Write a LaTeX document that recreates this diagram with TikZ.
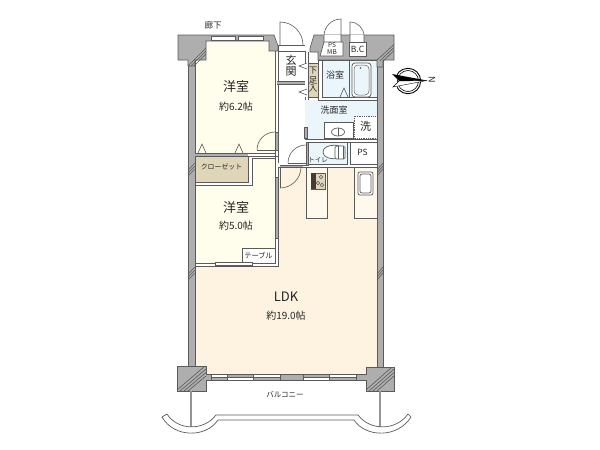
\documentclass[tikz,border=0pt]{standalone}
\usepackage{fontspec}
\setmainfont{Noto Sans CJK JP}
\definecolor{wallg}{HTML}{AEAEAE}
\definecolor{edgeg}{HTML}{5A5A5A}
\definecolor{roomy}{HTML}{FFFDEC}
\definecolor{roomo}{HTML}{FEF3E0}
\definecolor{cnt}{HTML}{FFF8EC}
\definecolor{wetb}{HTML}{EAF5FC}
\definecolor{tanc}{HTML}{DFD5B9}
\definecolor{stovd}{HTML}{4A3A30}
\tikzset{
  wall/.style={fill=wallg,draw=edgeg,line width=.6pt},
  ln/.style={draw=edgeg,line width=.7pt},
  partition/.style={draw=edgeg,fill=white,line width=.7pt},
  door/.style={draw=edgeg,line width=.6pt},
  hatchline/.style={draw=edgeg,line width=.6pt},
  lbl/.style={inner sep=0pt,text=black!85},
  bigt/.style={lbl,font=\fontsize{13}{13}\selectfont},
  midt/.style={lbl,font=\fontsize{10}{10}\selectfont},
  smallt/.style={lbl,font=\fontsize{8.5}{9}\selectfont},
  narrowt/.style={lbl,font=\fontsize{7.2}{8}\selectfont},
  tinyt/.style={lbl,font=\fontsize{6.5}{7}\selectfont},
}
\begin{document}
\begin{tikzpicture}[x=1pt,y=-1pt]
\useasboundingbox (0,0) rectangle (600,450);
% room fills
\fill[roomy] (195,41) rectangle (275,154);
\fill[roomy] (195,185) -- (252,185) -- (252,158) -- (275,158) -- (275,263) -- (195,263) -- cycle;
\fill[roomo] (195,266) -- (278,266) -- (278,167) -- (377,167) -- (377,367) -- (366,367) -- (366,374) -- (206,374) -- (206,366) -- (195,366) -- cycle;
\fill[wetb] (322,60) rectangle (377,97);
\fill[wetb] (305,100) rectangle (377,139);
\fill[wetb] (308,142) rectangle (350,164);
% outer walls
\fill[wallg] (188,60) rectangle (195,366);
\draw[ln] (188,60) -- (188,366) (195,60) -- (195,366);
\fill[wallg] (377,60) rectangle (383,367);
\draw[ln] (377,60) -- (377,367) (383,60) -- (383,367);
% top left block
\path[wall] (178,35) -- (274,35) -- (278,46) -- (278,51) -- (269,51) -- (269,41) -- (206,41) -- (206,60) -- (195,60) -- (195,66) -- (188,66) -- (188,60) -- (178,60) -- cycle;
\foreach \a/\b in {211/235,238/263}{\fill[white,draw=edgeg,line width=.7pt] (\a,36) rectangle (\b,40);}
\draw[line width=1.4pt,draw=edgeg] (211,40.6) -- (263,40.6);
% top right block
\path[wall] (314,35) -- (394,35) -- (394,60) -- (383,60) -- (383,67) -- (377,67) -- (377,60) -- (318,60) -- (318,52) -- (310,52) -- (310,48) -- cycle;
% corner hatch
\foreach \i in {0,3,6}{\draw[hatchline] (188+\i,66) -- (206,48+\i);}
\foreach \i in {0,3,6}{\draw[hatchline] (377+\i,60+\i*.2) -- (394,44.5+\i);}
\foreach \y in {167,170,173}{\draw[hatchline] (188,\y+3) -- (195,\y-4);\draw[hatchline] (377,\y+3) -- (383,\y-4);}
\foreach \y in {271,274,277}{\draw[hatchline] (188,\y+3) -- (195,\y-4);\draw[hatchline] (377,\y+3) -- (383,\y-4);}
% bottom wall
\path[wall] (177,366) -- (206,366) -- (206,374) -- (366,374) -- (366,367) -- (394,367) -- (394,391) -- (366,391) -- (366,380) -- (206,380) -- (206,391) -- (177,391) -- cycle;
\foreach \a/\b in {227/253,303/329}{\fill[white,draw=edgeg,line width=.6pt] (\a,377) rectangle (\b,380);\draw[edgeg,line width=.6pt] (\a,374) -- (\a,377) (\b,374) -- (\b,377);}
\foreach \a/\b in {211/227,253/280,329/356}{\fill[white,draw=edgeg,line width=.6pt] (\a,374) rectangle (\b,377);\draw[edgeg,line width=.6pt] (\a,377) -- (\a,380) (\b,377) -- (\b,380);}
\foreach \a/\b/\c/\d in {177/390/205/366,180/391/206/369,184/391/206/372.5,188/391/206/376}{\draw[hatchline] (\a,\b) -- (\c,\d);}
\foreach \a/\b/\c/\d in {366/390/392/367,369/391/394/369,373/391/394/372.5,377/391/394/376}{\draw[hatchline] (\a,\b) -- (\c,\d);}
% balcony
\draw[line width=1.2pt,draw=wallg!85!black] (191,391) -- (191,427) (380,391) -- (380,427);
\draw[ln] (162,417) .. controls (174,438) and (206,438) .. (218,420) -- (354,420) .. controls (366,438) and (398,438) .. (411,417);
\draw[ln] (167,414) .. controls (178,431) and (204,431) .. (216,415) -- (358,415) .. controls (370,431) and (396,431) .. (408,414);
\draw[ln] (162,417) -- (167,414) (411,417) -- (408,414);
% interior partitions
\draw[ln] (275,51) -- (275,263) -- (195,263);
\draw[ln] (278,46) -- (278,163);
\draw[ln] (278,167) -- (278,266) -- (195,266);
\path[wall] (275,132) rectangle (278,150);
\path[wall] (275,177) rectangle (278,238);
% closet
\fill[wallg] (195,153) rectangle (248,156);
\draw[ln] (195,153) -- (248,153) (195,185) -- (252,185) -- (252,158) -- (275,158);
\draw[ln] (248,156) -- (278,156) (248,153) -- (275,153);
\fill[tanc,draw=edgeg,line width=.6pt] (195,156) rectangle (248,182);
\foreach \x in {202,239}{\draw[door] (\x-4,153) -- (\x,144) -- (\x+4,153);}
\node[lbl,font=\fontsize{6.9}{8}\selectfont] (closet) at (221.5,167) {クローゼット};
% entrance
\fill[white] (281,35.3) rectangle (303,44.6);
\draw[ln] (278,45) -- (305,45) (278,51) -- (305,51);
\fill[wallg] (277,81) rectangle (305,84);
\draw[ln] (277,81) -- (305,81) (277,84) -- (305,84);
\draw[ln] (305,51) -- (305,63) (308,52) -- (308,63);
\draw[ln] (305,97) -- (305,100) (308,97) -- (308,100);
\fill[wallg] (304,127) rectangle (307,138);
\draw[ln] (304,127) rectangle (307,138);
\path[wall] (306,142) rectangle (308,165);
\draw[door] (280,45) -- (280,22) arc[start angle=-90,end angle=0,radius=23];
% shoe box
\fill[tanc,draw=edgeg,line width=.6pt] (308,63) rectangle (318,97);
\node[smallt] (shoe1) at (313,71) {下};
\node[smallt] (shoe2) at (313,80) {足};
\node[smallt] (shoe3) at (313,89) {入};
\draw[door] (307,63) -- (299,66) -- (307,69);
\draw[door] (307,89) -- (299,92) -- (307,95);
% bath
\draw[ln] (318,60) -- (377,60);
\draw[ln] (322,60) -- (322,97) -- (377,97);
\draw[ln] (318,60) -- (318,100) -- (377,100);
\draw[ln] (349,60) -- (349,97);
\fill[white,draw=edgeg,line width=.7pt,rounded corners=3pt] (352,63) rectangle (371,97);
\fill[wetb,draw=edgeg,line width=.5pt,rounded corners=4pt] (354,65) rectangle (369,95);
\fill[edgeg] (360.5,68) circle (.8);
\draw[door] (340,97) -- (344,88) -- (348,97);
% wash
\path[partition] (324,122) rectangle (353,138);
\draw[ln] (338,132) ellipse (6.5 and 4);
\draw[ln] (338,128) -- (338,136);
\fill[white] (354,116) rectangle (377,138);
\draw[line width=.8pt,densely dotted,draw=edgeg] (354,116) rectangle (377,138);
\draw[ln] (305,139) -- (377,139) (308,142) -- (377,142);
\draw[ln] (308,142) rectangle (347,164);
% toilet
\draw[ln,fill=white] (323,152) .. controls (323,143) and (345,143) .. (345,152) .. controls (345,161) and (323,161) .. (323,152) -- cycle;
\draw[ln,fill=white,rounded corners=1.5pt] (335,146) rectangle (345,159);
\draw[ln] (338,146) -- (338,159) (343,146) -- (343,159);
% PS
\path[partition] (350,142) rectangle (377,164);
\node[smallt] (ps) at (362.5,152) {PS};
% PS MB, BC
\fill[white] (324,35.4) rectangle (341,42);
\fill[white] (350,35.4) rectangle (364,42);
\path[partition] (324,42) -- (343,42) -- (343,56) -- (320,56) -- cycle;
\path[partition] (349,42) rectangle (366,56);
\node[tinyt] (psmb1) at (332,45.5) {PS};
\node[tinyt] (psmb2) at (332,52) {MB};
\node[smallt] (bc) at (357.5,49) {B.C};
\draw[door] (324,42) -- (324,36) arc[start angle=180,end angle=270,radius=17] -- (341,42);
\draw[door] (350,42) -- (350,22) arc[start angle=-90,end angle=0,radius=14] -- (364,42);
% room door arcs
\draw[door] (257,150) arc[start angle=180,end angle=270,radius=18];
\draw[door] (257,150) -- (275,150);
\draw[door] (288,163) arc[start angle=180,end angle=270,radius=18];
\draw[door] (288,163) -- (306,163);
% LDK door
\fill[wallg] (280,165) rectangle (303,167);
\draw[ln] (280,165) -- (306,165) (278,167) -- (377,167);
\draw[door] (280,188) -- (280,167);
\draw[door] (280,188) arc[start angle=90,end angle=0,radius=21];
% kitchen
\fill[cnt,draw=edgeg,line width=.7pt] (306,167) rectangle (327,218);
\fill[tanc,draw=edgeg,line width=.6pt] (311,173) rectangle (325,189);
\fill[stovd] (311,173) rectangle (316,189);
\draw[edgeg,line width=.6pt] (318,183) circle (1.8) (321,177) circle (1.8) (322,185) circle (1.8);
\fill[cnt,draw=edgeg,line width=.7pt] (354,167) rectangle (377,218);
\draw[ln,rounded corners=2pt,fill=white] (358,172) rectangle (373,195);
\draw[ln,rounded corners=2pt] (360,174) rectangle (371,193);
% table
\path[partition] (242,248) rectangle (275,263);
\node[narrowt] (table) at (258.5,255.5) {テーブル};
\fill[white,draw=edgeg,line width=.6pt] (215,262) rectangle (252,265);
% labels
\node[bigt] (room1) at (236,87) {洋室};
\node[midt] (room1a) at (236,107) {約6.2帖};
\node[bigt] (room2) at (236,208) {洋室};
\node[midt] (room2a) at (236,226) {約5.0帖};
\node[bigt] (ldk) at (286,297) {LDK};
\node[midt] (ldka) at (286,316) {約19.0帖};
\node[smallt] (corridor) at (213,25) {廊下};
\node[lbl,font=\fontsize{11}{11}\selectfont] (gen) at (291,60) {玄};
\node[lbl,font=\fontsize{11}{11}\selectfont] (kan) at (291,71.5) {関};
\node[lbl,font=\fontsize{9}{9}\selectfont] (bath) at (335,75) {浴室};
\node[lbl,font=\fontsize{9}{9}\selectfont] (wash) at (334,110) {洗面室};
\node[lbl,font=\fontsize{11}{11}\selectfont] (washer) at (365.5,126) {洗};
\node[tinyt] (toilet) at (318,160) {トイレ};
\node[lbl,font=\fontsize{7.5}{8}\selectfont] (balcony) at (285,395) {バルコニー};
% compass
\draw[line width=.9pt] (408,81) circle (12.7);
\draw[line width=.6pt] (408,81) circle (10.5);
\fill[white] (392,70) rectangle (397,92);
\fill[white,draw=black,line width=.4pt] (393,87) -- (427,80.5) -- (399,81) -- cycle;
\fill[black] (392,74) -- (427,80.5) -- (399,81) -- cycle;
\node[lbl,rotate=-90,font=\fontsize{9}{9}\selectfont] (north) at (432,80) {N};
\end{tikzpicture}
\end{document}
